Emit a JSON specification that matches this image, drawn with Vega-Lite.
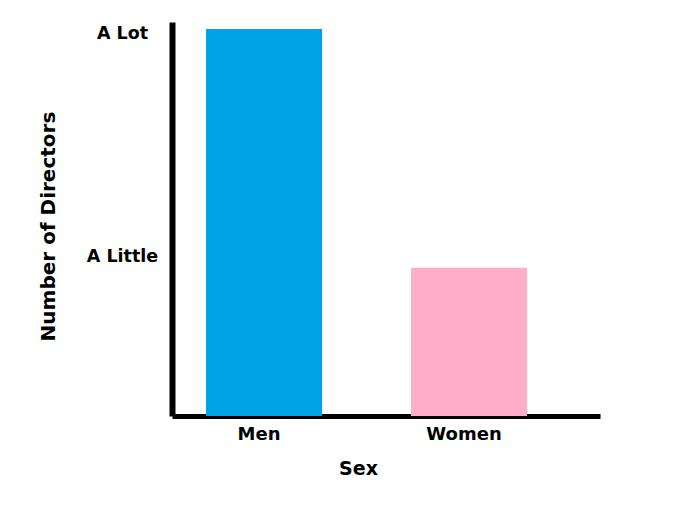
{
  "$schema": "https://vega.github.io/schema/vega-lite/v6.json",
  "autosize": {"type": "none"},
  "padding": {"left": 172, "top": 22, "right": 75, "bottom": 102},
  "width": 428,
  "height": 394,
  "background": "white",
  "data": {"values": [
    {"sex": "Men", "directors": 98.2},
    {"sex": "Women", "directors": 37.6}
  ]},
  "mark": {"type": "bar"},
  "encoding": {
    "x": {
      "field": "sex", "type": "nominal",
      "scale": {"paddingInner": 0.434, "paddingOuter": 0.261, "align": 0.318},
      "axis": {
        "title": "Sex", "labelAngle": 0, "ticks": false,
        "domainColor": "black", "domainWidth": 5,
        "labelFont": "DejaVu Sans", "labelFontWeight": "bold", "labelFontSize": 18, "labelColor": "black",
        "labelPadding": 9, "labelOffset": -5,
        "titleFont": "DejaVu Sans", "titleFontWeight": "bold", "titleFontSize": 19, "titleColor": "black",
        "titleX": 186, "titleY": 58, "titleBaseline": "alphabetic", "titleAnchor": null, "titleAlign": "center"
      }
    },
    "y": {
      "field": "directors", "type": "quantitative",
      "scale": {"domain": [0, 100], "nice": false},
      "axis": {
        "title": "Number of Directors", "grid": false, "ticks": false,
        "values": [40.6, 97.2],
        "labelExpr": "datum.value > 70 ? 'A Lot' : 'A Little'",
        "domainColor": "black", "domainWidth": 6,
        "labelFont": "DejaVu Sans", "labelFontWeight": "bold", "labelFontSize": 17.5, "labelColor": "black",
        "labelAlign": "center", "labelBaseline": "middle", "labelPadding": 50,
        "titleFont": "DejaVu Sans", "titleFontWeight": "bold", "titleFontSize": 20, "titleColor": "black",
        "titleX": -124, "titleY": 204, "titleBaseline": "middle", "titleAlign": "center", "titleAngle": -90
      }
    },
    "color": {
      "field": "sex", "type": "nominal",
      "scale": {"domain": ["Men", "Women"], "range": ["#00A3E6", "#FFAEC9"]},
      "legend": null
    }
  },
  "config": {"view": {"stroke": null}}
}
